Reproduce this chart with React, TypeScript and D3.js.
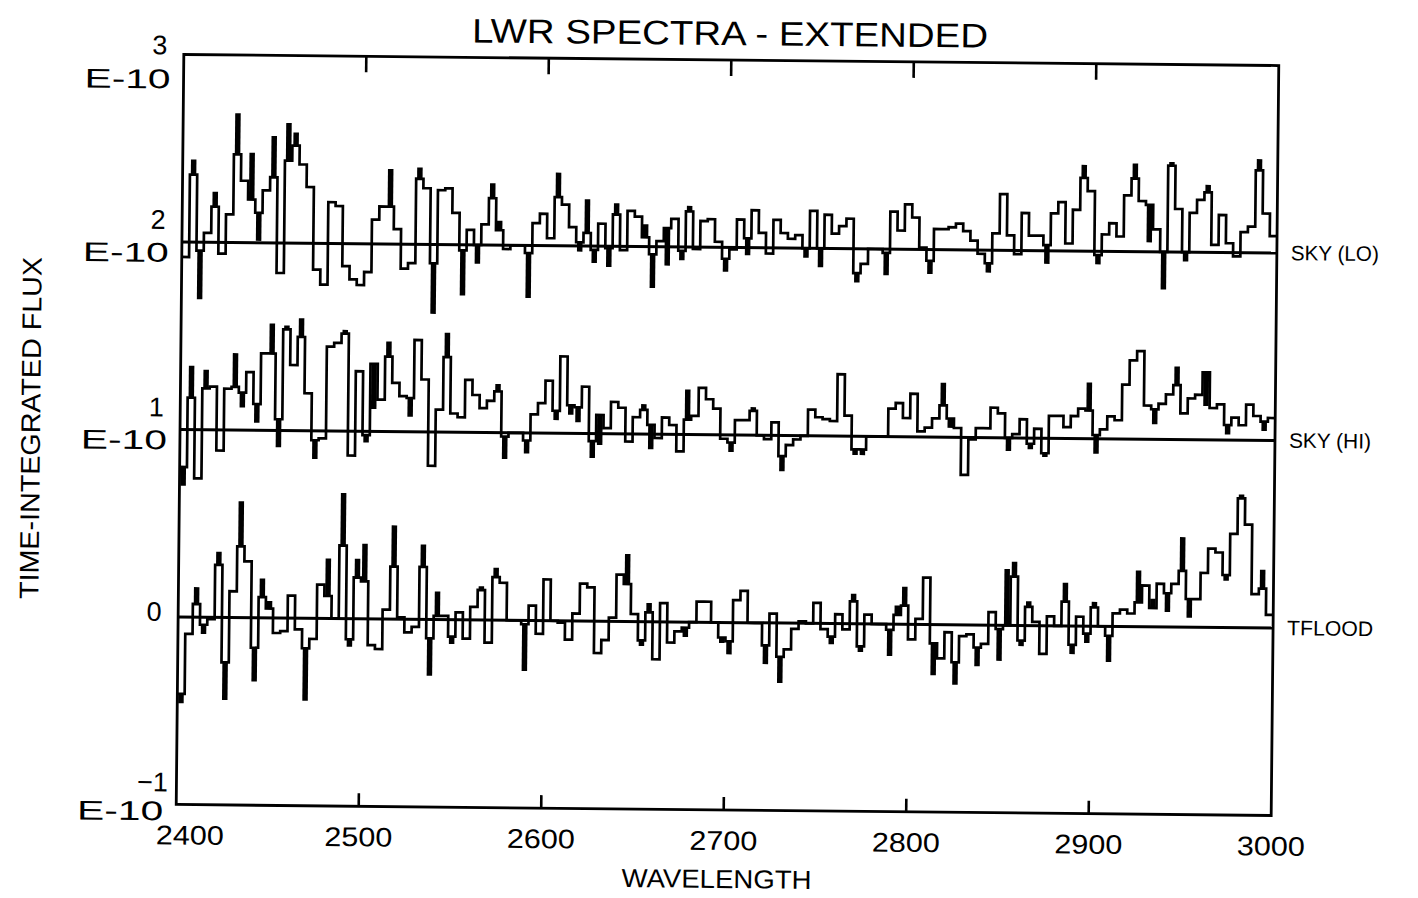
import React from "react";
import * as d3 from "d3";

// ---------- data (flux in units of 1E-10, relative to each spectrum's zero line) ----------
const TITLE = "LWR SPECTRA - EXTENDED";
const X_LABEL = "WAVELENGTH";
const Y_LABEL = "TIME-INTEGRATED FLUX";
const X_TICKS = [2400, 2500, 2600, 2700, 2800, 2900, 3000];
const Y_TICKS = [3, 2, 1, 0, -1];
const Y_TICK_DIGITS = ["3", "2", "1", "0", "\u22121"];
const Y_TICK_EXP = ["E-10", "E-10", "E-10", "", "E-10"];
const SERIES_NAMES = ["SKY (LO)", "SKY (HI)", "TFLOOD"];
const SERIES_OFFSETS = [2, 1, 0];

// bin starting wavelengths (4 Å bins 2400-3000)
const BIN_EDGES = d3.range(2400, 3001, 4);

const SKY_LO = [
  -0.08, 0.36, -0.045, 0.05, 0.19, -0.06, 0.15, 0.47, 0.33, 0.23,
  0.16, 0.28, 0.35, -0.16, 0.44, 0.52, 0.42, 0.3, -0.14, -0.22,
  0.22, 0.2, -0.12, -0.19, -0.22, -0.15, 0.13, 0.2, 0.2, 0.08,
  -0.13, -0.1, 0.35, 0.3, -0.1, 0.29, 0.3, 0.17, -0.03, 0.08,
  0.0, 0.11, 0.25, 0.08, -0.02, 0.0, 0.0, -0.04, 0.12, 0.17,
  0.04, 0.26, 0.22, 0.1, 0.02, 0.07, -0.02, 0.12, -0.01, 0.17,
  -0.02, 0.19, 0.16, 0.05, -0.04, 0.03, 0.1, 0.15, -0.02, 0.19,
  -0.01, 0.14, 0.15, 0.03, -0.06, -0.01, 0.15, 0.05, 0.2, 0.08,
  -0.03, 0.15, 0.08, 0.05, 0.07, 0.0, 0.2, 0.0, 0.18, 0.08,
  0.12, 0.16, -0.13, -0.08, 0.0, 0.0, -0.02, 0.2, 0.1, 0.24,
  0.17, 0.01, -0.06, 0.11, 0.11, 0.12, 0.14, 0.1, 0.05, -0.02,
  -0.07, 0.09, 0.3, 0.08, -0.02, 0.2, 0.08, 0.08, 0.03, 0.2,
  0.26, 0.04, 0.22, 0.39, 0.32, -0.02, 0.09, 0.15, 0.08, 0.3,
  0.39, 0.27, 0.25, 0.12, 0.0, 0.46, 0.23, 0.0, 0.21, 0.28,
  0.32, 0.04, 0.2, 0.05, -0.02, 0.11, 0.14, 0.44, 0.21, 0.09,
];
const SKY_LO_ERR: [number, number][] = [
  [1, 0.08], [2, -0.26], [4, 0.08], [7, 0.22], [9, 0.25], [10, -0.15], [12, 0.22],
  [14, 0.2], [15, 0.07], [28, 0.2], [32, 0.06], [34, -0.27], [38, -0.24], [40, -0.1],
  [42, 0.08], [43, 0.05], [47, -0.24], [51, 0.13], [54, -0.05], [55, 0.18], [56, -0.07],
  [58, -0.1], [59, 0.06], [63, 0.07], [64, -0.18], [66, -0.2], [68, -0.05], [69, 0.03],
  [74, -0.07], [77, -0.09], [85, -0.05], [87, -0.1], [92, -0.05], [96, -0.12], [102, -0.07],
  [110, -0.05], [118, -0.1], [123, 0.07], [125, -0.05], [130, 0.08], [132, -0.2],
  [134, -0.2], [135, 0.02], [137, -0.05], [140, 0.04], [147, 0.06],
];

const SKY_HI = [
  -0.2, 0.17, -0.26, 0.22, 0.23, -0.11, 0.22, 0.23, 0.2, 0.31,
  0.14, 0.41, 0.41, 0.06, 0.54, 0.35, 0.5, 0.2, -0.05, -0.04,
  0.45, 0.47, 0.52, -0.13, 0.32, -0.02, 0.36, 0.17, 0.4, 0.26,
  0.19, 0.18, 0.49, 0.28, -0.18, 0.12, 0.4, 0.1, 0.08, 0.28,
  0.2, 0.13, 0.17, 0.22, -0.02, 0.0, 0.0, -0.04, 0.1, 0.16,
  0.28, 0.12, 0.41, 0.15, 0.14, 0.25, -0.04, 0.1, 0.03, 0.17,
  0.14, -0.04, 0.09, 0.13, 0.05, -0.02, 0.09, 0.05, -0.09, 0.08,
  0.1, 0.25, 0.19, 0.14, -0.02, -0.04, 0.08, 0.08, 0.13, 0.0,
  -0.02, 0.07, -0.11, -0.05, -0.02, 0.0, 0.14, 0.1, 0.09, 0.08,
  0.33, 0.11, -0.07, -0.07, 0.0, 0.0, 0.0, 0.15, 0.18, 0.1,
  0.23, 0.03, 0.05, 0.1, 0.17, 0.1, 0.05, -0.2, -0.01, 0.05,
  0.05, 0.16, 0.13, 0.0, 0.02, 0.1, -0.03, 0.05, -0.08, 0.12,
  0.12, 0.06, 0.12, 0.16, 0.15, 0.02, 0.05, 0.12, 0.1, 0.29,
  0.42, 0.47, 0.18, 0.16, 0.19, 0.24, 0.29, 0.14, 0.22, 0.24,
  0.36, 0.17, 0.19, 0.08, 0.12, 0.08, 0.19, 0.13, 0.1, 0.12,
];
const SKY_HI_ERR: [number, number][] = [
  [0, -0.1], [1, 0.17], [3, 0.1], [7, 0.18], [8, -0.08], [10, -0.1], [12, 0.16],
  [13, -0.15], [14, 0.02], [16, 0.1], [18, -0.1], [22, 0.02], [25, -0.04], [26, -0.24],
  [28, 0.08], [31, -0.1], [36, 0.13], [43, 0.04], [44, -0.12], [47, -0.07], [51, -0.05],
  [53, -0.05], [54, -0.08], [56, -0.09], [57, -0.16], [63, 0.03], [64, -0.13], [69, 0.16],
  [75, -0.05], [78, 0.02], [82, -0.08], [92, -0.03], [93, -0.03], [104, 0.12], [105, -0.05],
  [113, -0.07], [116, -0.03], [118, -0.02], [124, 0.15], [125, -0.1], [133, -0.08],
  [136, 0.1], [140, -0.18], [143, -0.05], [148, -0.05],
];

const TFLOOD = [
  -0.41, -0.09, 0.07, -0.04, -0.01, 0.28, -0.24, 0.14, 0.38, 0.3,
  -0.16, 0.11, 0.05, -0.08, -0.07, 0.12, -0.06, -0.16, -0.11, 0.18,
  0.12, 0.0, 0.39, -0.11, 0.22, 0.2, -0.14, -0.16, 0.05, 0.28,
  0.01, -0.07, -0.04, 0.28, -0.1, 0.02, 0.02, -0.09, 0.04, -0.1,
  0.07, 0.16, -0.12, 0.23, 0.2, 0.0, 0.0, -0.02, 0.08, -0.07,
  0.22, 0.0, -0.01, -0.1, 0.04, 0.2, 0.18, -0.17, -0.1, 0.02,
  0.25, 0.2, 0.04, -0.1, 0.05, -0.2, 0.1, -0.11, -0.05, -0.03,
  0.0, 0.11, 0.11, 0.0, -0.08, -0.1, 0.12, 0.17, 0.0, 0.0,
  -0.12, 0.05, -0.18, -0.14, -0.03, 0.01, 0.0, 0.11, -0.03, -0.07,
  0.05, -0.03, 0.12, -0.12, 0.05, 0.0, 0.0, -0.03, 0.05, 0.1,
  -0.08, 0.03, 0.25, -0.1, -0.18, -0.04, -0.2, -0.06, -0.05, -0.12,
  -0.1, 0.07, -0.02, 0.0, 0.26, -0.08, 0.1, 0.02, -0.15, 0.05,
  0.0, 0.13, -0.1, 0.05, -0.04, 0.1, 0.0, -0.05, 0.07, 0.09,
  0.07, 0.13, 0.22, 0.1, 0.23, 0.18, 0.23, 0.3, 0.15, 0.15,
  0.29, 0.42, 0.4, 0.28, 0.5, 0.69, 0.55, 0.18, 0.21, 0.07,
];
const TFLOOD_ERR: [number, number][] = [
  [0, -0.05], [2, 0.09], [3, -0.05], [5, 0.07], [6, -0.2], [8, 0.24], [10, -0.18],
  [11, 0.1], [12, 0.04], [17, -0.28], [20, 0.2], [22, 0.28], [23, -0.04], [24, 0.1],
  [25, 0.2], [29, 0.22], [33, 0.12], [34, -0.2], [35, 0.13], [37, -0.04], [41, 0.02],
  [43, 0.05], [47, -0.25], [61, 0.16], [63, -0.03], [64, 0.05], [69, -0.05], [74, -0.03],
  [75, -0.07], [80, -0.1], [82, -0.14], [89, -0.04], [92, 0.04], [93, -0.03], [97, -0.14],
  [98, 0.05], [99, 0.1], [103, -0.17], [106, -0.12], [109, -0.1], [112, -0.17], [113, 0.3],
  [114, 0.08], [115, -0.03], [116, 0.03], [121, 0.1], [122, -0.05], [124, -0.05],
  [125, 0.03], [127, -0.14], [131, 0.17], [133, 0.05], [135, -0.1], [137, 0.18],
  [138, -0.1], [143, -0.03], [145, 0.02], [148, 0.1],
];

const SERIES_VALUES = [SKY_LO, SKY_HI, TFLOOD];
const SERIES_ERRS = [SKY_LO_ERR, SKY_HI_ERR, TFLOOD_ERR];

// ---------- layout ----------
const W = 1418;
const H = 898;
const LEFT = 180;
const RIGHT = 1275;
const TOP = 60;
const BOTTOM = 810;
const TILT = 0.58; // the scanned page is slightly rotated
const FONT = "'Liberation Sans', Arial, Helvetica, sans-serif";

export default function App() {
  const x = d3.scaleLinear().domain([2400, 3000]).range([LEFT, RIGHT]);
  const y = d3.scaleLinear().domain([-1, 3]).range([BOTTOM, TOP]);
  const binW = BIN_EDGES[1] - BIN_EDGES[0];

  const line = d3
    .line<[number, number]>()
    .x((d) => x(d[0]))
    .y((d) => y(d[1]))
    .curve(d3.curveStepAfter);

  const cx = (LEFT + RIGHT) / 2;
  const cy = (TOP + BOTTOM) / 2;

  // label offsets relative to tick position (digit above, exponent below)
  const digitDy = (v: number) => (v === 3 ? 0 : v === 0 ? 4 : -13);
  const expDy = (v: number) => (v === 3 ? 34 : v === -1 ? 16 : 20);

  return (
    <svg
      width={W}
      height={H}
      style={{ position: "absolute", left: 0, top: 0, background: "#fff" }}
      fontFamily={FONT}
    >
      <rect x={0} y={0} width={W} height={H} fill="#fff" />
      <g transform={`rotate(${TILT} ${cx} ${cy})`}>
        {/* title */}
        <text x={726} y={45} fontSize={34} textAnchor="middle" textLength={516} lengthAdjust="spacingAndGlyphs">
          {TITLE}
        </text>

        {/* frame */}
        <rect x={LEFT} y={TOP} width={RIGHT - LEFT} height={BOTTOM - TOP} fill="none" stroke="#000" strokeWidth={2.8} />

        {/* x ticks: top and bottom, inward */}
        {X_TICKS.slice(1, -1).map((t) => (
          <g key={`xt${t}`}>
            <line x1={x(t)} x2={x(t)} y1={TOP} y2={TOP + 16} stroke="#000" strokeWidth={2.6} />
            <line x1={x(t)} x2={x(t)} y1={BOTTOM} y2={BOTTOM - 13} stroke="#000" strokeWidth={2.6} />
          </g>
        ))}

        {/* x tick labels */}
        {X_TICKS.map((t, i) => (
          <text
            key={`xl${t}`}
            x={x(t) + (i === 0 ? 14 : 0)}
            y={BOTTOM + 40}
            fontSize={27}
            textAnchor="middle"
            textLength={68}
            lengthAdjust="spacingAndGlyphs"
          >
            {t}
          </text>
        ))}

        {/* y tick labels */}
        {Y_TICKS.map((v, i) => (
          <g key={`yl${v}`}>
            <text x={LEFT - 24} y={y(v) + digitDy(v)} fontSize={27} textAnchor="middle">
              {Y_TICK_DIGITS[i]}
            </text>
            {Y_TICK_EXP[i] && (
              <text
                x={LEFT - 56}
                y={y(v) + expDy(v)}
                fontSize={27}
                textAnchor="middle"
                textLength={86}
                lengthAdjust="spacingAndGlyphs"
              >
                {Y_TICK_EXP[i]}
              </text>
            )}
          </g>
        ))}

        {/* axis titles */}
        <text x={721} y={888} fontSize={26} textAnchor="middle" textLength={190} lengthAdjust="spacingAndGlyphs">
          {X_LABEL}
        </text>
        <text
          transform={`translate(40 ${cy}) rotate(-90)`}
          fontSize={27}
          textAnchor="middle"
          textLength={342}
          lengthAdjust="spacingAndGlyphs"
        >
          {Y_LABEL}
        </text>

        {/* spectra */}
        {SERIES_VALUES.map((vals, s) => {
          const off = SERIES_OFFSETS[s];
          const pts: [number, number][] = vals.map((v, i) => [BIN_EDGES[i], off + v]);
          pts.push([BIN_EDGES[vals.length], off + vals[vals.length - 1]]);
          return (
            <g key={`s${s}`}>
              <line x1={x(2400)} x2={x(3000)} y1={y(off)} y2={y(off)} stroke="#000" strokeWidth={3} />
              <path d={line(pts) || ""} fill="none" stroke="#000" strokeWidth={2.7} strokeLinejoin="miter" />
              {SERIES_ERRS[s].map(([bi, e]) => {
                const xc = x(BIN_EDGES[bi] + binW / 2);
                return (
                  <line
                    key={`e${s}-${bi}`}
                    x1={xc}
                    x2={xc}
                    y1={y(off + vals[bi])}
                    y2={y(off + vals[bi] + e)}
                    stroke="#000"
                    strokeWidth={5.5}
                  />
                );
              })}
              <text x={RIGHT + 14} y={y(off) + 7} fontSize={21} textLength={s === 2 ? 86 : s === 1 ? 82 : 88} lengthAdjust="spacingAndGlyphs">
                {SERIES_NAMES[s]}
              </text>
            </g>
          );
        })}
      </g>
    </svg>
  );
}
